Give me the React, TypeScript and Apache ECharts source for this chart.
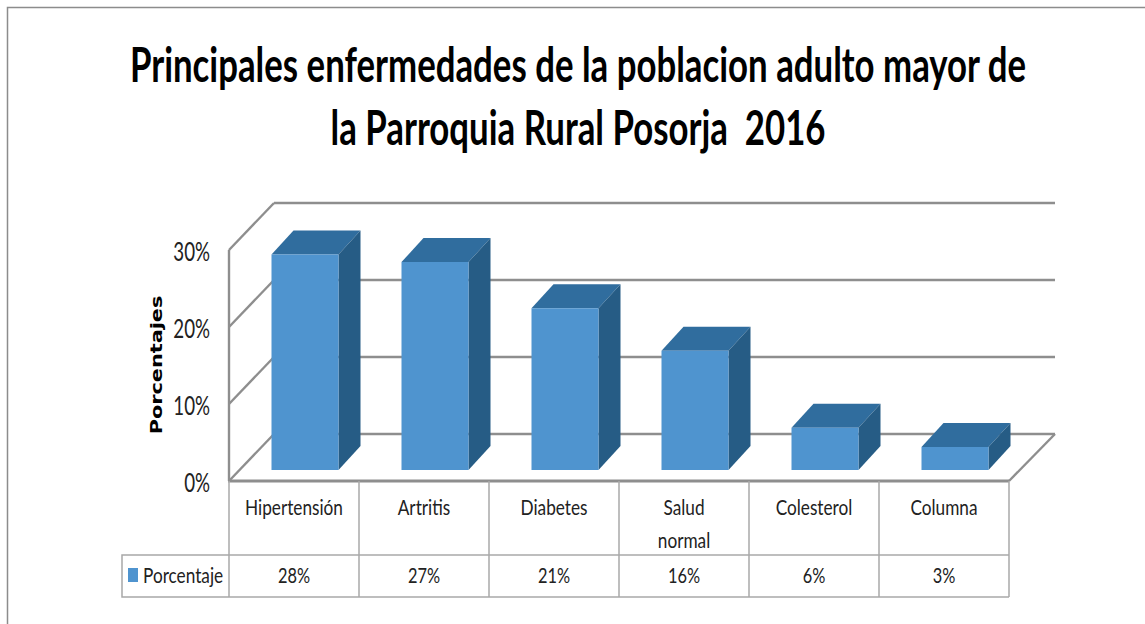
import React, { useEffect, useRef } from "react";
import * as echarts from "echarts";

const titleLines = [
  "Principales enfermedades de la poblacion adulto mayor de",
  "la Parroquia Rural Posorja  2016",
];
const categories = ["Hipertensión", "Artritis", "Diabetes", "Salud\nnormal", "Colesterol", "Columna"];
const seriesName = "Porcentaje";
const values = [0.28, 0.27, 0.21, 0.155, 0.055, 0.03];
const gridTicks = [0, 0.1, 0.2, 0.3];
const yAxisTitle = "Porcentajes";

const FONT = "Lato, sans-serif";
const WALL = "#8E8E8E";
const TABLE = "#A8A8A8";
const FRONT = "#4F94CF";
const TOP = "#306D9E";
const SIDE = "#265C85";
const INK = "#222222";
const pct = (v: number) => `${Math.round(v * 100)}%`;

export default function App() {
  const ref = useRef<HTMLDivElement>(null);
  useEffect(() => {
    const chart = echarts.init(ref.current!, undefined, { renderer: "svg" });
    const wallDX = 45, wallDY = -47;

    const renderWalls = (_: any, api: any) => {
      const v = api.value(0);
      const [x0, y] = api.coord([0, v]);
      const band = api.size([1, 0])[0];
      const left = x0 - band / 2;
      const right = left + band * categories.length;
      const style = { stroke: WALL, lineWidth: 2.4, fill: "none" };
      const children: any[] = [
        { type: "line", shape: { x1: left, y1: y, x2: left + wallDX, y2: y + wallDY }, style },
        { type: "line", shape: { x1: left + wallDX, y1: y + wallDY, x2: right + wallDX + 1, y2: y + wallDY }, style },
        {
          type: "text", x: left - 19, y: y + 1.5, scaleX: 0.72,
          style: { text: pct(v), fontFamily: FONT, fontSize: 26, fill: INK, textAlign: "right", verticalAlign: "middle" },
        },
      ];
      if (v === 0) {
        children.push(
          { type: "line", shape: { x1: left - 1, y1: y, x2: right, y2: y }, style: { ...style, lineWidth: 3 } },
          { type: "line", shape: { x1: right, y1: y, x2: right + wallDX + 1, y2: y + wallDY }, style },
        );
      }
      if (v === gridTicks[gridTicks.length - 1]) {
        const [, y0] = api.coord([0, 0]);
        children.push({ type: "line", shape: { x1: left, y1: y, x2: left, y2: y0 }, style });
      }
      return { type: "group", children };
    };

    const renderTable = (_: any, api: any) => {
      const i = api.value(0);
      const [cx, y0] = api.coord([i, 0]);
      const band = api.size([1, 0])[0];
      const l = cx - band / 2, r = cx + band / 2;
      const rowTop = y0 + 74, rowBottom = y0 + 116;
      const style = { stroke: TABLE, lineWidth: 1.5, fill: "none" };
      const children: any[] = [
        { type: "line", shape: { x1: r, y1: y0, x2: r, y2: rowBottom }, style },
        { type: "line", shape: { x1: l, y1: rowTop, x2: r, y2: rowTop }, style },
        { type: "line", shape: { x1: l, y1: rowBottom, x2: r, y2: rowBottom }, style },
        {
          type: "text", x: cx, y: y0 + 9.5, scaleX: 0.82,
          style: { text: categories[i], fontFamily: FONT, fontSize: 21, lineHeight: 33, fill: INK, textAlign: "center", verticalAlign: "top" },
        },
        {
          type: "text", x: cx, y: y0 + 94, scaleX: 0.78,
          style: { text: pct(values[i]), fontFamily: FONT, fontSize: 21, fill: INK, textAlign: "center", verticalAlign: "middle" },
        },
      ];
      if (i === 0) {
        children.push(
          { type: "line", shape: { x1: l, y1: y0, x2: l, y2: rowBottom }, style },
          { type: "polyline", shape: { points: [[l, rowTop], [l - 107, rowTop], [l - 107, rowBottom], [l, rowBottom]] }, style },
          { type: "rect", shape: { x: l - 101, y: rowTop + 13, width: 10, height: 14 }, style: { fill: FRONT } },
          {
            type: "text", x: l - 86, y: rowTop + 20, scaleX: 0.82,
            style: { text: seriesName, fontFamily: FONT, fontSize: 21, fill: INK, textAlign: "left", verticalAlign: "middle" },
          },
        );
      }
      return { type: "group", children };
    };

    const renderBar = (_: any, api: any) => {
      const i = api.value(0);
      const [cx, yTop] = api.coord([i, api.value(1)]);
      const [, yBase] = api.coord([i, 0]);
      const w = 67, shift = 11, dx = 22, dy = -24;
      const l = cx + shift - w / 2, r = l + w;
      const t = yTop - shift, b = yBase - shift;
      return {
        type: "group",
        children: [
          { type: "polygon", shape: { points: [[l, t], [r, t], [r + dx, t + dy], [l + dx, t + dy]] }, style: { fill: TOP } },
          { type: "polygon", shape: { points: [[r, t], [r + dx, t + dy], [r + dx, b + dy], [r, b]] }, style: { fill: SIDE } },
          { type: "rect", shape: { x: l, y: t, width: w, height: b - t }, style: { fill: FRONT } },
        ],
      };
    };

    chart.setOption({
      animation: false,
      backgroundColor: "#ffffff",
      grid: { left: 229, width: 780, top: 250, height: 231 },
      xAxis: {
        type: "category",
        data: categories,
        axisLine: { show: false },
        axisTick: { show: false },
        axisLabel: { show: false },
      },
      yAxis: {
        type: "value",
        min: 0,
        max: 0.3,
        interval: 0.1,
        axisLine: { show: false },
        axisTick: { show: false },
        splitLine: { show: false },
        axisLabel: { show: false },
      },
      series: [
        {
          type: "custom", name: "walls", silent: true, z: 1, renderItem: renderWalls,
          data: gridTicks.map((v) => [v]), encode: { y: 0 },
        },
        {
          type: "custom", name: "table", silent: true, z: 1, renderItem: renderTable,
          data: categories.map((_, i) => [i]), encode: { x: 0 },
        },
        {
          type: "custom", name: seriesName, z: 3, renderItem: renderBar,
          itemStyle: { color: FRONT },
          data: values.map((v, i) => [i, v]), encode: { x: 0, y: 1 },
        },
      ],
      graphic: [
        {
          type: "polyline",
          silent: true,
          shape: { points: [[7.5, 624], [7.5, 7.5], [1145, 7.5]] },
          style: { stroke: "#8C8C8C", lineWidth: 1.5, fill: "none" },
        },
        ...titleLines.map((text, i) => ({
          type: "text",
          silent: true,
          x: 578,
          y: 64 + i * 63,
          scaleX: 0.725,
          style: { text, fontFamily: FONT, fontWeight: "bold", fontSize: 48, fill: "#000", textAlign: "center", verticalAlign: "middle" },
        })),
        {
          type: "text",
          silent: true,
          x: 156,
          y: 365,
          rotation: Math.PI / 2,
          scaleX: 1.3,
          style: { text: yAxisTitle, fontFamily: "DejaVu Sans", fontWeight: "bold", fontSize: 16, fill: "#000", textAlign: "center", verticalAlign: "middle" },
        },
      ],
    });
    return () => chart.dispose();
  }, []);
  return <div ref={ref} style={{ position: "fixed", left: 0, top: 0, width: 1145, height: 624 }} />;
}
